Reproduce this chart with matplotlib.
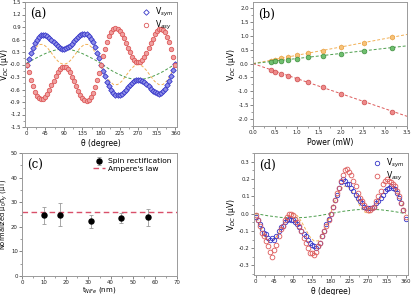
import numpy as np
import matplotlib
matplotlib.use("Agg")
import matplotlib.pyplot as plt
from matplotlib.ticker import MultipleLocator, FormatStrFormatter

# ---------------- data (a) ----------------
theta_a = list(range(0, 361, 5))
vsym_a = [0.0, 0.141, 0.276, 0.400, 0.508, 0.593, 0.658, 0.697, 0.713, 0.707,
          0.682, 0.643, 0.593, 0.539, 0.486, 0.439, 0.401, 0.378, 0.370,
          0.389, 0.413, 0.452, 0.502, 0.558, 0.615, 0.667, 0.709, 0.736, 0.742,
          0.726, 0.685, 0.619, 0.529, 0.417, 0.288, 0.147, 0.0,
          -0.146, -0.286, -0.415, -0.526, -0.614, -0.680, -0.720, -0.736, -0.729,
          -0.701, -0.659, -0.606, -0.549, -0.493, -0.442, -0.403, -0.379, -0.370,
          -0.368, -0.392, -0.428, -0.474, -0.527, -0.580, -0.629, -0.668, -0.693,
          -0.699, -0.683, -0.645, -0.582, -0.497, -0.392, -0.271, -0.138, 0.02]
vasy_a = [0.0, -0.186, -0.363, -0.520, -0.651, -0.750, -0.813, -0.837, -0.824, -0.777,
          -0.703, -0.607, -0.498, -0.385, -0.278, -0.184, -0.111, -0.066, -0.050,
          -0.067, -0.114, -0.190, -0.289, -0.401, -0.519, -0.634, -0.734, -0.813, -0.862,
          -0.876, -0.850, -0.785, -0.681, -0.544, -0.379, -0.194, 0.0,
          0.194, 0.379, 0.544, 0.681, 0.785, 0.850, 0.876, 0.862, 0.813,
          0.734, 0.634, 0.519, 0.401, 0.289, 0.190, 0.114, 0.067, 0.050,
          0.066, 0.113, 0.188, 0.284, 0.395, 0.511, 0.623, 0.722, 0.799,
          0.847, 0.860, 0.835, 0.771, 0.669, 0.535, 0.373, 0.191, 0.0]
theta_fit_a = list(range(0, 361, 10))
fit_orange_a = [0, 0.216, 0.387, 0.48, 0.483, 0.405, 0.277, 0.141, 0.038, 0,
                0.038, 0.141, 0.277, 0.405, 0.483, 0.48, 0.387, 0.216, 0,
                -0.216, -0.387, -0.48, -0.483, -0.405, -0.277, -0.141, -0.038, 0,
                -0.038, -0.141, -0.277, -0.405, -0.483, -0.48, -0.387, -0.216, 0]
fit_green_a = [0.03, 0.085, 0.14, 0.19, 0.24, 0.283, 0.32, 0.348, 0.364, 0.37,
               0.364, 0.348, 0.32, 0.283, 0.24, 0.19, 0.14, 0.085, 0.02,
               -0.045, -0.11, -0.17, -0.22, -0.265, -0.305, -0.335, -0.352, -0.36,
               -0.352, -0.335, -0.305, -0.265, -0.22, -0.17, -0.11, -0.05, 0.01]

# ---------------- data (b) ----------------
power = [0.40, 0.50, 0.63, 0.80, 1.00, 1.26, 1.58, 2.00, 2.52, 3.16]
v_orange_b = [0.08, 0.12, 0.19, 0.24, 0.30, 0.38, 0.46, 0.59, 0.74, 0.95]
v_green_b = [0.06, 0.08, 0.11, 0.13, 0.17, 0.22, 0.26, 0.36, 0.44, 0.56]
v_red_b = [-0.24, -0.29, -0.36, -0.45, -0.55, -0.67, -0.86, -1.09, -1.37, -1.74]
power_fit = [0.0, 3.5]
fit_orange_b = [0.0, 1.05]
fit_green_b = [0.0, 0.64]
fit_red_b = [0.0, -1.90]

# ---------------- data (c) ----------------
thick = [10, 17, 31, 44.5, 57]
h_norm = [24.8, 25.0, 22.3, 23.4, 24.0]
err_lo = [3.6, 4.5, 2.7, 1.7, 3.6]
err_hi = [3.4, 4.5, 2.7, 2.1, 3.4]
ampere = 26.0

# ---------------- data (d) ----------------
theta_d = list(range(0, 361, 5))
vsym_d = [-0.02, -0.04, -0.06, -0.09, -0.11, -0.12, -0.14, -0.15, -0.14, -0.15,
          -0.13, -0.10, -0.08, -0.07, -0.05, -0.04, -0.03, -0.04, -0.04,
          -0.05, -0.06, -0.08, -0.10, -0.12, -0.13, -0.15, -0.17, -0.18, -0.19,
          -0.20, -0.19, -0.17, -0.13, -0.10, -0.06, -0.03, 0.00,
          0.04, 0.08, 0.11, 0.15, 0.18, 0.20, 0.19, 0.17, 0.17,
          0.15, 0.13, 0.11, 0.09, 0.07, 0.06, 0.04, 0.03, 0.03,
          0.03, 0.03, 0.04, 0.06, 0.07, 0.09, 0.11, 0.13, 0.14,
          0.15, 0.16, 0.15, 0.14, 0.12, 0.09, 0.06, 0.02, -0.03]
vasy_d = [-0.01, -0.04, -0.07, -0.11, -0.13, -0.16, -0.19, -0.22, -0.25, -0.21,
          -0.18, -0.13, -0.09, -0.07, -0.04, -0.02, 0.00, 0.00, -0.01,
          -0.03, -0.05, -0.07, -0.10, -0.14, -0.17, -0.20, -0.23, -0.23, -0.24,
          -0.22, -0.19, -0.17, -0.13, -0.10, -0.07, -0.04, 0.00,
          0.04, 0.08, 0.12, 0.15, 0.19, 0.22, 0.25, 0.26, 0.24,
          0.22, 0.19, 0.16, 0.12, 0.09, 0.07, 0.05, 0.03, 0.02,
          0.02, 0.03, 0.04, 0.07, 0.10, 0.13, 0.17, 0.19, 0.20,
          0.19, 0.18, 0.17, 0.16, 0.13, 0.10, 0.06, 0.02, -0.02]
theta_fit_d = list(range(0, 361, 10))
fit_orange_d = [0, -0.071, -0.127, -0.158, -0.158, -0.133, -0.091, -0.046, -0.012, 0,
                -0.012, -0.046, -0.091, -0.133, -0.158, -0.158, -0.127, -0.071, 0,
                0.071, 0.127, 0.158, 0.158, 0.133, 0.091, 0.046, 0.012, 0,
                0.012, 0.046, 0.091, 0.133, 0.158, 0.158, 0.127, 0.071, 0]
theta_green_d = list(range(0, 361, 30))
fit_green_d = [0.0, -0.013, -0.022, -0.025, -0.022, -0.013, 0.0,
               0.013, 0.022, 0.025, 0.022, 0.013, 0.0]

# ---------------- styling ----------------
plt.rcParams['font.family'] = ['DejaVu Sans']
BLUE = '#3636c8'
RED = '#dd5a5a'
ORANGE = '#f2b055'
GREEN = '#4d9e4d'
SPINE = '#9a9a9a'
TICK_FS = 3.9
LAB_FS = 5.5

fig = plt.figure(figsize=(4.12, 2.95), dpi=100)
W, H = 412, 295

def add_axes(l, r, t, b):
    return fig.add_axes([l / W, (H - b) / H, (r - l) / W, (b - t) / H])

def style(ax):
    for s in ax.spines.values():
        s.set_color(SPINE)
        s.set_linewidth(0.7)
    ax.tick_params(which='major', direction='out', length=2.0, width=0.5,
                   colors='#555555', labelsize=TICK_FS, pad=1.0, labelcolor='#222222')
    ax.tick_params(which='minor', direction='out', length=1.1, width=0.4, colors='#555555')
    ax.tick_params(top=False, right=False)

def panel_label(ax, s):
    ax.text(0.035, 0.95, s, transform=ax.transAxes, ha='left', va='top',
            fontsize=8.5, family='DejaVu Serif')

def place_ylabel(ax, px, left, width):
    ax.yaxis.set_label_coords((px - left) / width, 0.5)

# ---- (a)
ax = add_axes(25, 177, 2, 127)
ax.plot(theta_fit_a, fit_orange_a, ls=(0, (3, 2)), color=ORANGE, lw=0.7)
ax.plot(theta_fit_a, fit_green_a, ls=(0, (3, 2)), color=GREEN, lw=0.7)
ax.plot(theta_a, vsym_a, 'D', ms=2.8, mfc='#8f8fe8', mec=BLUE, mew=0.6, ls='none', label='V$_{sym}$')
ax.plot(theta_a, vasy_a, 'o', ms=3.2, mfc='#f0a0a0', mec=RED, mew=0.6, ls='none', label='V$_{asy}$')
ax.set_xlim(-4, 364)
ax.set_ylim(-1.5, 1.5)
ax.xaxis.set_major_locator(MultipleLocator(45))
ax.xaxis.set_minor_locator(MultipleLocator(22.5))
ax.yaxis.set_major_locator(MultipleLocator(0.3))
ax.yaxis.set_minor_locator(MultipleLocator(0.15))
ax.yaxis.set_major_formatter(FormatStrFormatter('%.1f'))
style(ax)
ax.set_xlabel('θ (degree)', fontsize=LAB_FS, labelpad=2)
ax.set_ylabel('V$_{DC}$ (μV)', fontsize=LAB_FS)
place_ylabel(ax, 11.5, 25, 152)
panel_label(ax, '(a)')
leg = ax.legend(loc='upper right', fontsize=5.6, frameon=False, handlelength=1.0,
                handletextpad=0.6, labelspacing=0.0, borderaxespad=0.1)
for h in leg.legend_handles:
    h.set_markerfacecolor('none')

# ---- (b)
ax = add_axes(253, 407, 2, 126)
ax.plot(power_fit, fit_orange_b, ls=(0, (3, 2)), color=ORANGE, lw=0.7)
ax.plot(power_fit, fit_green_b, ls=(0, (3, 2)), color=GREEN, lw=0.7)
ax.plot(power_fit, fit_red_b, ls=(0, (3, 2)), color=RED, lw=0.7)
ax.plot(power, v_orange_b, 'h', ms=3.6, mfc='#f6c27a', mec='#e8a040', mew=0.5, ls='none')
ax.plot(power, v_green_b, 'o', ms=3.4, mfc='#6fbf6f', mec='#3e8e3e', mew=0.5, ls='none')
ax.plot(power, v_red_b, 'o', ms=3.4, mfc='#ee8a8a', mec='#cc4c4c', mew=0.5, ls='none')
ax.set_xlim(0, 3.5)
ax.set_ylim(-2.25, 2.22)
ax.xaxis.set_major_locator(MultipleLocator(0.5))
ax.xaxis.set_minor_locator(MultipleLocator(0.25))
ax.yaxis.set_major_locator(MultipleLocator(0.5))
ax.yaxis.set_minor_locator(MultipleLocator(0.25))
ax.xaxis.set_major_formatter(FormatStrFormatter('%.1f'))
ax.yaxis.set_major_formatter(FormatStrFormatter('%.1f'))
style(ax)
ax.set_xlabel('Power (mW)', fontsize=LAB_FS, labelpad=2)
ax.set_ylabel('V$_{DC}$ (μV)', fontsize=LAB_FS)
place_ylabel(ax, 238, 253, 154)
panel_label(ax, '(b)')

# ---- (c)
ax = add_axes(22, 177, 153, 276)
ax.axhline(ampere, ls=(0, (4, 2.5)), color='#d9506a', lw=1.0, label="Ampere's law")
ax.errorbar(thick, h_norm, yerr=[err_lo, err_hi], fmt='o', ms=3.6, color='black',
            ecolor='#999999', elinewidth=0.6, capsize=1.5, capthick=0.6,
            label='Spin rectification')
ax.set_xlim(0, 70)
ax.set_ylim(0, 50)
ax.xaxis.set_major_locator(MultipleLocator(10))
ax.xaxis.set_minor_locator(MultipleLocator(5))
ax.yaxis.set_major_locator(MultipleLocator(10))
ax.yaxis.set_minor_locator(MultipleLocator(5))
style(ax)
ax.set_xlabel('t$_{NiFe}$ (nm)', fontsize=5.0, labelpad=0.2)
ax.set_ylabel('Normalized μ$_0$h$_y$ (μT)', fontsize=4.8)
place_ylabel(ax, 10.5, 22, 155)
panel_label(ax, '(c)')
handles, labels = ax.get_legend_handles_labels()
ax.legend(handles[::-1], labels[::-1], loc='upper right', fontsize=5.4, frameon=False,
          handlelength=1.6, handletextpad=0.5, labelspacing=0.15, borderaxespad=0.3)

# ---- (d)
ax = add_axes(254, 408, 153, 275)
ax.plot(theta_green_d, fit_green_d, ls=(0, (3, 2)), color=GREEN, lw=0.7)
ax.plot(theta_fit_d, fit_orange_d, ls=(0, (3, 2)), color=ORANGE, lw=0.7)
ax.plot(theta_d, vsym_d, 'o', ms=3.2, mfc='none', mec=BLUE, mew=0.6, ls='none', label='V$_{sym}$')
ax.plot(theta_d, vasy_d, 'o', ms=3.4, mfc='none', mec=RED, mew=0.6, ls='none', label='V$_{asy}$')
ax.set_xlim(-4, 366)
ax.set_ylim(-0.355, 0.35)
ax.xaxis.set_major_locator(MultipleLocator(45))
ax.xaxis.set_minor_locator(MultipleLocator(22.5))
ax.yaxis.set_major_locator(MultipleLocator(0.1))
ax.yaxis.set_minor_locator(MultipleLocator(0.05))
ax.yaxis.set_major_formatter(FormatStrFormatter('%.1f'))
style(ax)
ax.set_xlabel('θ (degree)', fontsize=LAB_FS, labelpad=2)
ax.set_ylabel('V$_{DC}$ (μV)', fontsize=LAB_FS)
place_ylabel(ax, 238, 254, 154)
panel_label(ax, '(d)')
ax.legend(loc='upper right', fontsize=5.6, frameon=False, handlelength=1.0,
          handletextpad=0.6, labelspacing=0.0, borderaxespad=0.1)

fig.savefig('out.png', dpi=100)
